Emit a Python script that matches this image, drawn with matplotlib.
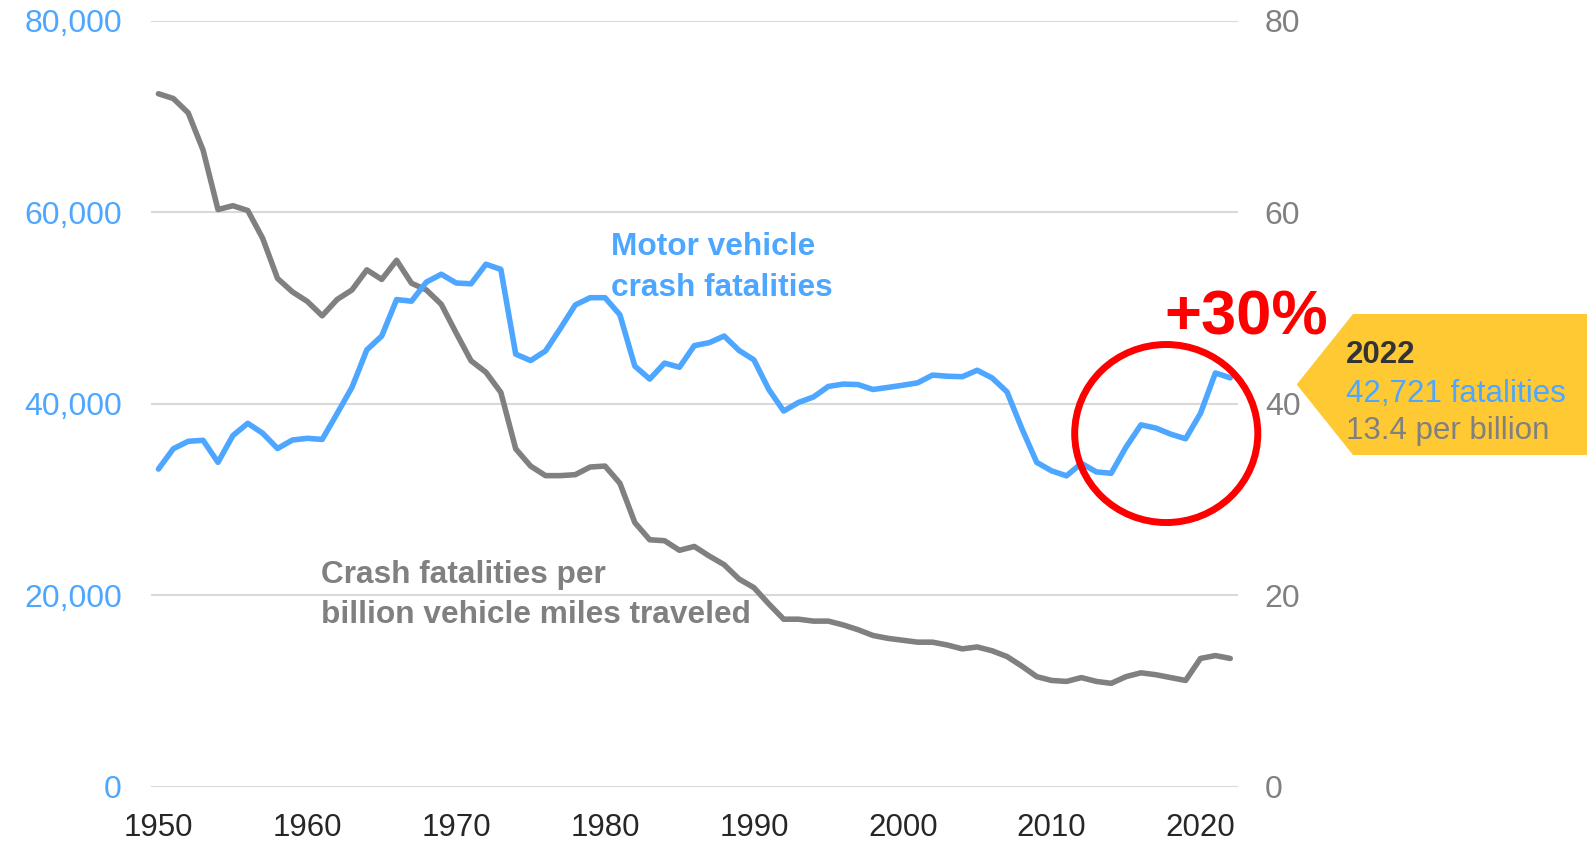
import numpy as np
import matplotlib.pyplot as plt
from matplotlib.patches import Ellipse, Polygon
from matplotlib.ticker import FuncFormatter

plt.rcParams['font.family'] = ['Liberation Sans', 'DejaVu Sans']

years = list(range(1950, 2023))
fatalities = [33186, 35309, 36088, 36190, 33890, 36688, 37965, 36932, 35331, 36223,
              36399, 36285, 38980, 41723, 45645, 47089, 50894, 50724, 52725, 53543,
              52627, 52542, 54589, 54052, 45196, 44525, 45523, 47878, 50331, 51093,
              51091, 49301, 43945, 42589, 44257, 43825, 46087, 46390, 47087, 45582,
              44599, 41508, 39250, 40150, 40716, 41817, 42065, 42013, 41501, 41717,
              41945, 42196, 43005, 42884, 42836, 43510, 42708, 41259, 37423, 33883,
              32999, 32479, 33782, 32893, 32744, 35484, 37806, 37473, 36835, 36355,
              39007, 43230, 42721]
rate = [72.4, 71.9, 70.4, 66.5, 60.3, 60.7, 60.2, 57.3, 53.1, 51.7,
        50.7, 49.2, 50.9, 51.9, 54.0, 53.0, 55.0, 52.6, 51.9, 50.4,
        47.4, 44.5, 43.3, 41.2, 35.3, 33.5, 32.5, 32.5, 32.6, 33.4,
        33.5, 31.7, 27.6, 25.8, 25.7, 24.7, 25.1, 24.1, 23.2, 21.7,
        20.8, 19.1, 17.5, 17.5, 17.3, 17.3, 16.9, 16.4, 15.8, 15.5,
        15.3, 15.1, 15.1, 14.8, 14.4, 14.6, 14.2, 13.6, 12.6, 11.5,
        11.1, 11.0, 11.4, 11.0, 10.8, 11.5, 11.9, 11.7, 11.4, 11.1,
        13.4, 13.7, 13.4]
left_ticks = [0, 20000, 40000, 60000, 80000]
right_ticks = [0, 20, 40, 60, 80]
x_ticks = [1950, 1960, 1970, 1980, 1990, 2000, 2010, 2020]

BLUE = '#4DA6FF'
GRAY = '#808080'

W, H = 1587, 843
fig = plt.figure(figsize=(W / 100, H / 100), dpi=100)
ax = fig.add_axes([151 / W, 1 - 786.7 / H, (1237.7 - 151) / W, (786.7 - 21) / H])
ax2 = ax.twinx()
ax.set_zorder(ax2.get_zorder() + 1)
ax.patch.set_visible(False)

ax2.plot(years, rate, color=GRAY, lw=4, solid_joinstyle='round', solid_capstyle='round')
ax.plot(years, fatalities, color=BLUE, lw=4, solid_joinstyle='round', solid_capstyle='round')

ax.set_xlim(1949.5, 2022.5)
ax.set_ylim(0, 80000)
ax2.set_ylim(0, 80)
ax.set_yticks(left_ticks)
ax2.set_yticks(right_ticks)
ax.set_xticks(x_ticks)
ax.yaxis.set_major_formatter(FuncFormatter(lambda v, p: f'{int(v):,}'))
ax2.grid(axis='y', color='#D9D9D9', lw=1.5)
ax2.set_axisbelow(True)

for a in (ax, ax2):
    for s in a.spines.values():
        s.set_visible(False)
ax.tick_params(axis='y', length=0, labelsize=23, labelcolor=BLUE, pad=21)
ax.tick_params(axis='x', length=0, labelsize=22.5, labelcolor='#262626', pad=19)
ax2.tick_params(axis='y', length=0, labelsize=23, labelcolor=GRAY, pad=19.5)

# series labels
ax2.text(1980.4, 55.5, 'Motor vehicle', color=BLUE, fontsize=22.8, fontweight='bold', va='baseline')
ax2.text(1980.4, 51.3, 'crash fatalities', color=BLUE, fontsize=22.8, fontweight='bold', va='baseline')
ax2.text(1960.9, 21.3, 'Crash fatalities per', color=GRAY, fontsize=22.8, fontweight='bold', va='baseline')
ax2.text(1960.9, 17.1, 'billion vehicle miles traveled', color=GRAY, fontsize=22.8, fontweight='bold',
         va='baseline')

# highlight
ax.add_patch(Ellipse((2017.7, 36900), 12.3, 18600, fill=False, edgecolor='#FF0000', lw=5,
                     clip_on=False, zorder=5))
ax.text(2017.6, 47200, '+30%', color='#FF0000', fontsize=45.5, fontweight='bold', va='baseline',
        clip_on=False)

# callout box
pts = [(1296.7, 384.5), (1353, 314), (1587, 314), (1587, 455), (1353, 455)]
fig.patches.append(Polygon([(x / W, 1 - y / H) for x, y in pts], closed=True,
                           facecolor='#FFC933', edgecolor='none', transform=fig.transFigure))
fig.text(1345.7 / W, 1 - 363.3 / H, '2022', color='#333333', fontsize=22.5, fontweight='bold', va='baseline')
fig.text(1345.7 / W, 1 - 401.7 / H, '42,721 fatalities', color=BLUE, fontsize=22.5, va='baseline')
fig.text(1345.7 / W, 1 - 439.3 / H, '13.4 per billion', color=GRAY, fontsize=22.5, va='baseline')

fig.savefig('out.png', dpi=100)
